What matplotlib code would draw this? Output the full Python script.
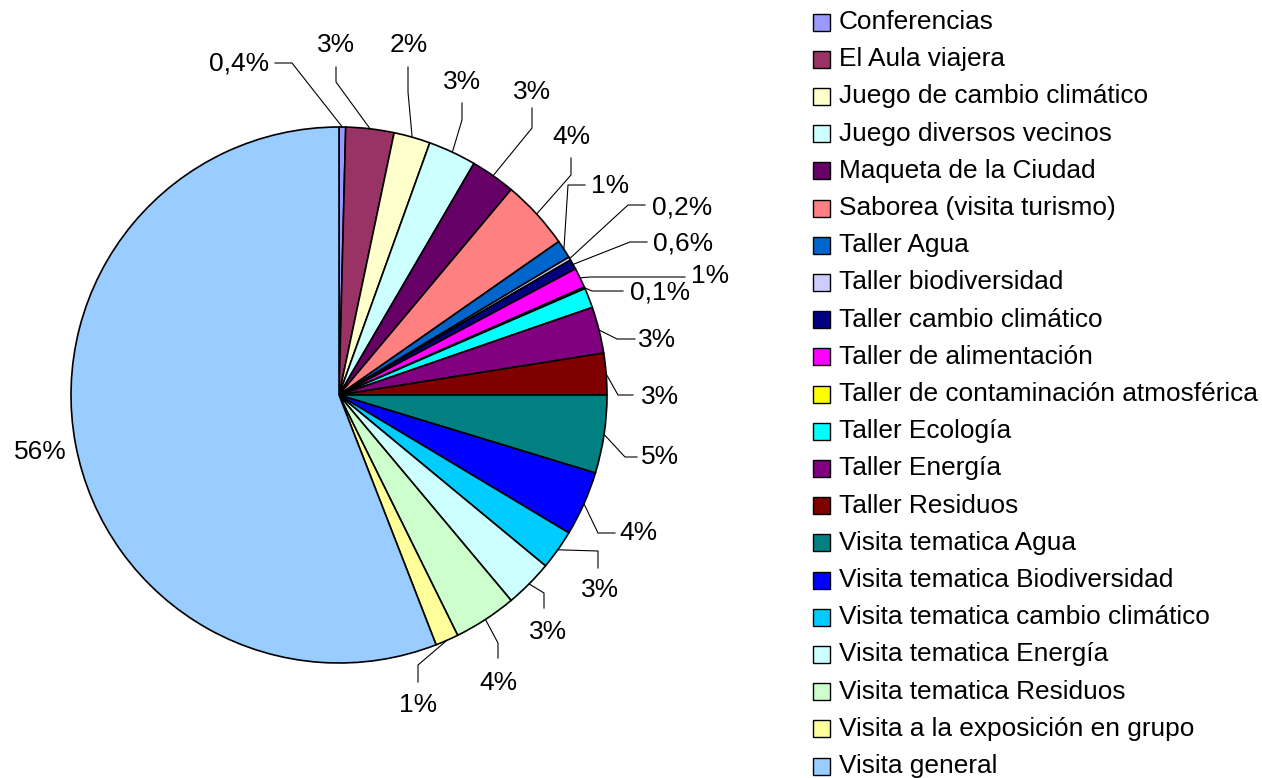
import numpy as np
from matplotlib import pyplot as plt
from matplotlib.patches import Rectangle

plt.rcParams['font.family'] = ['Liberation Sans', 'DejaVu Sans']

# data
categories = ["Conferencias", "El Aula viajera", "Juego de cambio climático",
              "Juego diversos vecinos", "Maqueta de la Ciudad",
              "Saborea (visita turismo)", "Taller Agua", "Taller biodiversidad",
              "Taller cambio climático", "Taller de alimentación",
              "Taller de contaminación atmosférica", "Taller Ecología",
              "Taller Energía", "Taller Residuos", "Visita tematica Agua",
              "Visita tematica Biodiversidad", "Visita tematica cambio climático",
              "Visita tematica Energía", "Visita tematica Residuos",
              "Visita a la exposición en grupo", "Visita general"]
values = [0.4, 2.9, 2.2, 2.9, 2.7, 4.2, 1.1, 0.2, 0.6, 1.2, 0.1, 1.2,
          2.8, 2.5, 4.7, 3.9, 2.4, 2.9, 3.8, 1.4, 55.9]
pct_labels = ["0,4%", "3%", "2%", "3%", "3%", "4%", "1%", "0,2%", "0,6%", "1%",
              "0,1%", "", "3%", "3%", "5%", "4%", "3%", "3%", "4%", "1%", "56%"]
colors = ["#9999FF", "#993366", "#FFFFCC", "#CCFFFF", "#660066", "#FF8080",
          "#0066CC", "#CCCCFF", "#000080", "#FF00FF", "#FFFF00", "#00FFFF",
          "#800080", "#800000", "#008080", "#0000FF", "#00CCFF", "#CCFFFF",
          "#CCFFCC", "#FFFF99", "#99CCFF"]

# label layout (pixel coords): text centre, leader elbow, leader end
text_xy = [(239, 63), (336, 45), (409, 45), (462, 82), (532, 92), (571, 137),
           (610, 186), (682, 207), (683, 243), (710, 276), (660, 292), None,
           (657, 340), (660, 397), (660, 457), (638, 533), (600, 590),
           (548, 632), (498, 683), (418, 705), (40, 452)]
elbow_xy = [(292, 63), (336, 82), (408, 92), (462, 120), (532, 128), (571, 175),
            (568, 185), (628, 205), (630, 242), (590, 277), (592, 291), None,
            (617, 339), (618, 395), (625, 457), (598, 533), (598, 551),
            (544, 593), (498, 643), (418, 665), None]
end_xy = [(275, 63), (336, 67), (408, 67), (462, 103), (532, 108), (571, 158),
          (585, 185), (645, 205), (647, 242), (685, 277), (623, 291), None,
          (635, 339), (633, 395), (637, 457), (615, 533), (598, 568),
          (544, 608), (498, 658), (418, 682), None]

W, H = 1262, 778
cx, cy, R = 339, 395, 268

fig = plt.figure(figsize=(W / 100, H / 100), dpi=100)
ax = fig.add_axes([0, 0, 1, 1])

wedges, _ = ax.pie(values, colors=colors, startangle=-90, counterclock=True,
                   center=(cx, cy), radius=R,
                   wedgeprops=dict(edgecolor='black', linewidth=1.2))
ax.set_xlim(0, W)
ax.set_ylim(H, 0)
ax.axis('off')

for i, w in enumerate(wedges):
    if text_xy[i] is None:
        continue
    if elbow_xy[i] is not None:
        mid = np.deg2rad((w.theta1 + w.theta2) / 2)
        ax_pt = (cx + R * np.cos(mid), cy + R * np.sin(mid))
        xs = [ax_pt[0], elbow_xy[i][0], end_xy[i][0]]
        ys = [ax_pt[1], elbow_xy[i][1], end_xy[i][1]]
        ax.plot(xs, ys, color='black', lw=0.8)
    ax.text(text_xy[i][0], text_xy[i][1], pct_labels[i], fontsize=19,
            ha='center', va='center')

# legend
for i, (name, c) in enumerate(zip(categories, colors)):
    y = 22 + i * 37.2
    ax.add_patch(Rectangle((813, y - 8.5), 17, 17, facecolor=c,
                           edgecolor='black', lw=1.0))
    ax.text(839, y, name, fontsize=18.9, ha='left', va='center')

fig.savefig('out.png', dpi=100)
